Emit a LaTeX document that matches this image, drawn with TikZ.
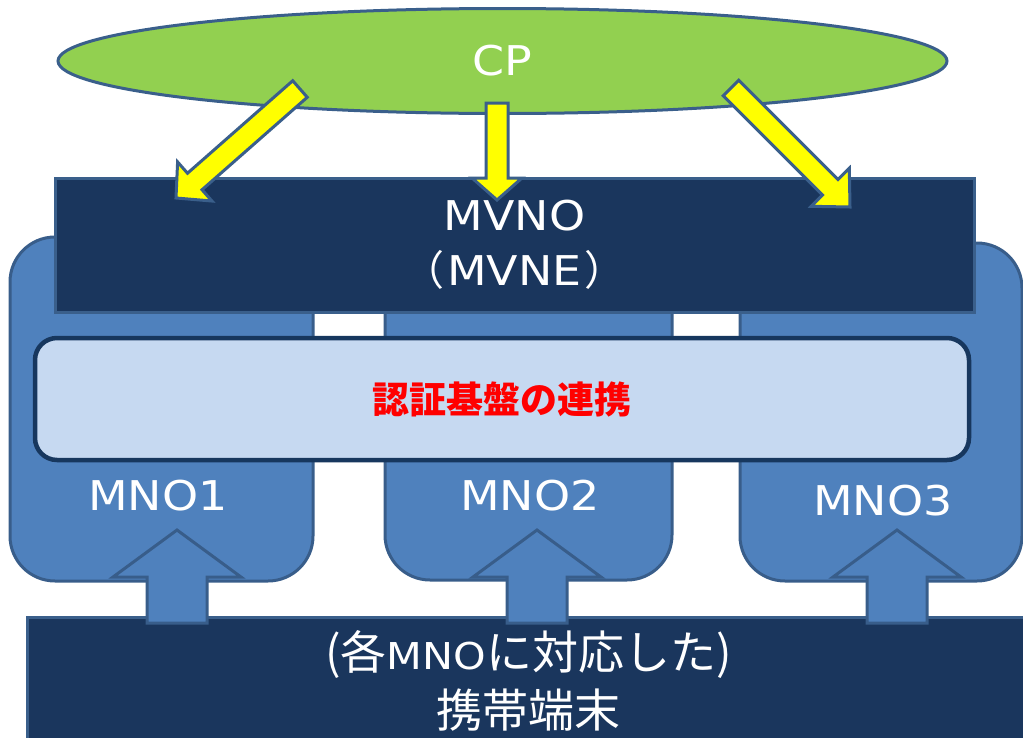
\documentclass[tikz,border=0pt]{standalone}
\usepackage{fontspec}
\setmainfont{Noto Sans CJK JP}
\newfontfamily\latin[FakeStretch=1.12]{DejaVu Sans}
\usetikzlibrary{shapes.geometric,calc}
\definecolor{cpgreen}{HTML}{92D050}
\definecolor{edgeblue}{HTML}{3A5F8B}
\definecolor{navy}{HTML}{1A365D}
\definecolor{mnoblue}{HTML}{4F81BD}
\definecolor{mnoedge}{HTML}{385D8A}
\definecolor{authfill}{HTML}{C6D9F1}
\definecolor{authedge}{HTML}{17375E}
\definecolor{arrowyellow}{HTML}{FFFF00}
% block arrow: #1 tail, #2 tip, #3 shaft half-width, #4 head half-width, #5 head length, #6 style
\newcommand{\blockarr}[6]{%
  \coordinate (hb) at ($(#2)!#5!(#1)$);
  \draw[#6] ($(#1)!#3!90:(#2)$) -- ($(hb)!#3!90:(#2)$) -- ($(hb)!#4!90:(#2)$) -- (#2)
    -- ($(hb)!#4!-90:(#2)$) -- ($(hb)!#3!-90:(#2)$) -- ($(#1)!#3!-90:(#2)$) -- cycle;}
\begin{document}
\begin{tikzpicture}[x=1pt,y=-1pt,
  mnobox/.style={draw=mnoedge, line width=3pt, fill=mnoblue, rounded corners=45pt, inner sep=0pt},
  navybox/.style={draw=edgeblue, line width=3pt, fill=navy, inner sep=0pt, text=white, align=center},
  whitetext/.style={text=white, font=\latin\fontsize{41}{55}\selectfont},
  uparrow/.style={draw=mnoedge, line width=3pt, fill=mnoblue, line join=miter},
  yarrow/.style={draw=edgeblue, line width=3pt, fill=arrowyellow, line join=miter}]
\useasboundingbox (0,0) rectangle (1023,737);
% MNO boxes
\node[mnobox, minimum width=303pt, minimum height=344pt] (mno1box) at (161.5,409) {};
\node[mnobox, minimum width=287pt, minimum height=343pt] (mno2box) at (528.5,408.5) {};
\node[mnobox, minimum width=282pt, minimum height=338pt] (mno3box) at (881,412) {};
% MVNO
\node[navybox, minimum width=919pt, minimum height=134pt, font=\fontsize{41}{55}\selectfont] (mvno) at (514.5,245)
  {{\latin MVNO}\\\kern-0.3em（\kern0.08em{\latin MVNE}\kern0.08em）\kern-0.3em};
% authentication
\node[draw=authedge, line width=4.5pt, fill=authfill, rounded corners=22pt, minimum width=934pt, minimum height=122pt, inner sep=0pt,
  text=red, font=\fontsize{37}{44}\selectfont\bfseries] (auth) at (502,399) {認証基盤の連携};
% MNO labels
\node[whitetext] (mno1) at (158,496) {MNO1};
\node[whitetext] (mno2) at (530,496) {MNO2};
\node[whitetext] (mno3) at (883,501) {MNO3};
% terminals
\node[navybox, minimum width=1003pt, minimum height=128pt, font=\fontsize{46}{58}\selectfont] (term) at (528.5,681)
  {(各{\latin\fontsize{37}{58}\selectfont MNO}に対応した)\\携帯端末};
% up arrows
\coordinate (u1t) at (177,623); \coordinate (u1h) at (177,530);
\coordinate (u2t) at (537,623); \coordinate (u2h) at (537,530);
\coordinate (u3t) at (897,623); \coordinate (u3h) at (897,530);
\blockarr{u1t}{u1h}{30pt}{64pt}{47pt}{uparrow}
\blockarr{u2t}{u2h}{30pt}{64pt}{47pt}{uparrow}
\blockarr{u3t}{u3h}{30pt}{64pt}{47pt}{uparrow}
% CP
\node[ellipse, draw=edgeblue, line width=3pt, fill=cpgreen, minimum width=889pt, minimum height=105pt, inner sep=0pt,
  text=white, font=\latin\fontsize{41}{50}\selectfont] (cp) at (502.5,61) {CP};
% yellow arrows
\coordinate (y1t) at (300,89);  \coordinate (y1h) at (176,198);
\coordinate (y2t) at (497,103); \coordinate (y2h) at (497,200);
\coordinate (y3t) at (731,88);  \coordinate (y3h) at (850,207);
\blockarr{y1t}{y1h}{11pt}{26pt}{25pt}{yarrow}
\blockarr{y2t}{y2h}{11pt}{25pt}{22pt}{yarrow}
\blockarr{y3t}{y3h}{11pt}{27pt}{28pt}{yarrow}
\end{tikzpicture}
\end{document}
